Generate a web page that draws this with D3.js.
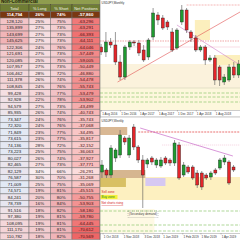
<!DOCTYPE html>
<html>
<head>
<meta charset="utf-8">
<script src="https://cdn.jsdelivr.net/npm/d3@7"></script>
<style>
  html, body { margin: 0; padding: 0; background: #fff; overflow: hidden; }
  svg { display: block; font-family: "Liberation Sans", Arial, sans-serif; }
</style>
</head>
<body>
<div id="chart"></div>
<script>
// Non-Commercial positions table
var headers = ["Total", "% Long", "% Short", "Net Positions"];
var totals = [114794, 128120, 135899, 143699, 145625, 122306, 121691, 120085, 107957, 106462, 111378, 108845, 99428, 92928, 94579, 85935, 73347, 72320, 71849, 73615, 74136, 73223, 80027, 82465, 82129, 76587, 71009, 74571, 84241, 78739, 91516, 97380, 108095, 111170, 110782];
var longPct = [26, 25, 27, 27, 27, 24, 27, 25, 27, 28, 26, 24, 23, 22, 27, 26, 24, 24, 23, 23, 28, 25, 26, 27, 34, 30, 25, 19, 20, 16, 18, 19, 19, 19, 18];
var shortPct = [74, 75, 73, 73, 73, 76, 73, 75, 73, 72, 74, 76, 77, 78, 73, 74, 76, 76, 77, 77, 72, 75, 74, 73, 66, 70, 75, 81, 80, 84, 82, 81, 81, 81, 82];
var netPos = [-57860, -63296, -63291, -66393, -64111, -64046, -57449, -59005, -50449, -46880, -54478, -55743, -53479, -53902, -43499, -40743, -35743, -37068, -34495, -35817, -32152, -36063, -37927, -37771, -26291, -31268, -35069, -45515, -50755, -53903, -58180, -59780, -64445, -70612, -70569];

// upper chart: monthly candles
var topMonths = ["2016-08", "2016-09", "2016-10", "2016-11", "2016-12", "2017-01", "2017-02", "2017-03", "2017-04", "2017-05", "2017-06", "2017-07", "2017-08", "2017-09", "2017-10", "2017-11", "2017-12", "2018-01", "2018-02", "2018-03", "2018-04", "2018-05", "2018-06", "2018-07", "2018-08", "2018-09", "2018-10", "2018-11", "2018-12", "2019-01"];
var topOpen  = [110.3, 109.8, 110.8, 110.5, 108.8, 107.3, 110.3, 110.8, 110.7, 110.0, 109.3, 111.3, 113.5, 113.2, 112.8, 111.8, 110.2, 112.8, 114.0, 111.8, 111.2, 110.0, 110.3, 109.0, 109.2, 108.3, 106.8, 107.0, 108.3, 107.5];
var topHigh  = [110.6, 111.8, 111.2, 111.8, 109.5, 110.5, 111.0, 111.0, 111.0, 110.5, 111.2, 114.2, 113.8, 113.5, 113.0, 112.2, 112.2, 114.5, 114.2, 112.0, 111.5, 110.5, 110.5, 109.5, 109.5, 108.5, 107.6, 108.6, 108.8, 109.0];
var topLow   = [109.5, 109.3, 110.2, 108.5, 107.0, 107.0, 110.0, 110.4, 109.4, 108.8, 109.0, 111.0, 112.5, 112.0, 112.0, 109.8, 110.0, 112.5, 111.7, 110.8, 109.8, 109.8, 108.5, 108.8, 106.5, 106.4, 106.5, 106.8, 107.2, 107.2];
var topClose = [109.8, 110.8, 110.5, 108.8, 107.3, 110.3, 110.8, 110.7, 109.7, 109.0, 111.0, 113.7, 113.0, 112.2, 112.3, 110.0, 112.0, 114.0, 112.0, 111.2, 110.0, 110.3, 109.0, 109.2, 107.0, 107.0, 107.3, 108.3, 107.5, 108.6];
var topTicks = ["2016-08-01", "2016-12-01", "2017-04-01", "2017-08-01", "2017-12-01", "2018-04-01", "2018-08-01"];

// lower chart: weekly candles
var lowWeeks = ["2018-09-30", "2018-10-07", "2018-10-14", "2018-10-21", "2018-10-28", "2018-11-04", "2018-11-11", "2018-11-18", "2018-11-25", "2018-12-02", "2018-12-09", "2018-12-16", "2018-12-23", "2018-12-30", "2019-01-06", "2019-01-13", "2019-01-20", "2019-01-27", "2019-02-03", "2019-02-10", "2019-02-17", "2019-02-24", "2019-03-03", "2019-03-10", "2019-03-17", "2019-03-24", "2019-03-31", "2019-04-07", "2019-04-14", "2019-04-21"];
var lowOpen  = [108.0, 108.2, 107.7, 109.4, 109.7, 111.4, 109.7, 112.5, 110.5, 109.2, 108.8, 109.4, 108.7, 108.6, 109.4, 109.2, 108.9, 110.7, 107.7, 108.5, 108.5, 107.9, 107.9, 107.7, 107.5, 108.2, 108.4, 109.0, 109.0, 108.5];
var lowHigh  = [109.2, 108.4, 110.7, 110.4, 112.2, 111.6, 111.7, 112.8, 110.7, 109.7, 109.4, 109.6, 109.4, 109.5, 109.6, 109.4, 111.2, 111.0, 109.0, 108.7, 108.7, 108.2, 108.1, 107.9, 108.1, 108.4, 109.4, 109.7, 109.2, 108.7];
var lowLow   = [107.4, 107.4, 107.4, 109.0, 109.4, 110.7, 109.4, 110.2, 108.9, 104.4, 108.4, 108.7, 108.4, 108.4, 108.7, 108.6, 108.6, 107.2, 107.5, 107.8, 107.2, 106.4, 106.2, 107.2, 107.2, 107.7, 108.2, 108.7, 106.7, 108.0];
var lowClose = [108.7, 107.7, 110.4, 110.2, 111.7, 111.0, 111.4, 110.5, 109.2, 107.7, 109.2, 109.0, 109.2, 109.2, 108.9, 108.9, 110.9, 107.4, 108.7, 108.0, 107.4, 106.7, 106.5, 107.4, 107.9, 107.9, 109.2, 109.4, 106.9, 108.2];
var lowTicks = ["2018-10-01", "2018-11-01", "2018-12-03", "2019-01-01", "2019-02-01", "2019-03-01", "2019-04-01"];

var svg = d3.select("#chart")
  .append("svg")
  .attr("width", 240)
  .attr("height", 240);

var fmt = d3.formatLocale({ decimal: ".", thousands: ",", grouping: [3], currency: ["", ""], minus: "-" }).format(",");
var parseMonth = d3.timeParse("%Y-%m");
var parseDay = d3.timeParse("%Y-%m-%d");

// ---------- table ----------
var colX = [0, 29, 50.5, 72, 100];
var rowY = d3.scaleBand().domain(d3.range(totals.length)).range([11.5, 239.5]);

var totalColor = d3.scaleLinear().domain([71009, 100000, 145625]).range(["#e2e9f5", "#f5dfe2", "#f1b3b6"]);
var longColor = d3.scaleLinear().domain([16, 34]).range(["#f2c6ca", "#f9eef0"]);
var shortColor = d3.scaleLinear().domain([66, 84]).range(["#f7e2e5", "#efaeb2"]);
var netColor = d3.scaleLinear().domain([-26291, -70612]).range(["#fbdcdc", "#ee6666"]);

var table = svg.append("g");

table.append("rect").attr("x", 0).attr("y", -3).attr("width", 100).attr("height", 7.5).attr("fill", "#8f9d4e");
table.append("text").attr("x", 1).attr("y", 3)
  .attr("font-size", 4.6).attr("font-weight", "bold").attr("fill", "#1e2408")
  .text("Non-Commercial");

headers.forEach(function(h, j) {
  table.append("rect").attr("x", colX[j]).attr("y", 4.5).attr("width", colX[j + 1] - colX[j]).attr("height", 7)
    .attr("fill", "#6f7d34").attr("stroke", "#4a4a2a").attr("stroke-width", 0.5);
  table.append("text").attr("x", (colX[j] + colX[j + 1]) / 2).attr("y", 9.6)
    .attr("text-anchor", "middle").attr("font-size", 4).attr("fill", "#f4f4e4")
    .text(h);
});

var rows = table.selectAll(".row")
  .data(d3.range(totals.length))
  .enter()
  .append("g")
  .attr("class", "row")
  .attr("transform", function(i) { return "translate(0," + rowY(i) + ")"; });

function cellText(i, j) {
  if (j === 0) return fmt(totals[i]);
  if (j === 1) return longPct[i] + "%";
  if (j === 2) return shortPct[i] + "%";
  return fmt(netPos[i]);
}
function cellFill(i, j) {
  if (i === 0) return "#7a3812";
  if (j === 0) return totalColor(totals[i]);
  if (j === 1) return longColor(longPct[i]);
  if (j === 2) return shortColor(shortPct[i]);
  return netColor(netPos[i]);
}

[0, 1, 2, 3].forEach(function(j) {
  rows.append("rect")
    .attr("x", colX[j])
    .attr("width", colX[j + 1] - colX[j])
    .attr("height", rowY.bandwidth())
    .attr("fill", function(i) { return cellFill(i, j); })
    .attr("stroke", "#6e6e6e")
    .attr("stroke-width", 0.5);
  rows.append("text")
    .attr("x", (colX[j] + colX[j + 1]) / 2)
    .attr("y", rowY.bandwidth() / 2 + 1.6)
    .attr("text-anchor", "middle")
    .attr("font-size", 4.4)
    .attr("font-weight", function(i) { return i === 0 ? "bold" : "normal"; })
    .attr("fill", function(i) { return i === 0 ? "#fff" : (j === 3 ? "#4a1010" : "#222"); })
    .text(function(i) { return cellText(i, j); });
});

// ---------- candles helper ----------
function drawCandles(g, dates, open, high, low, close, x, y, w) {
  var idx = d3.range(dates.length);
  g.selectAll(".wick")
    .data(idx)
    .enter()
    .append("line")
    .attr("x1", function(i) { return x(dates[i]); })
    .attr("x2", function(i) { return x(dates[i]); })
    .attr("y1", function(i) { return y(high[i]); })
    .attr("y2", function(i) { return y(low[i]); })
    .attr("stroke", "#555")
    .attr("stroke-width", 0.6);
  g.selectAll(".body")
    .data(idx)
    .enter()
    .append("rect")
    .attr("x", function(i) { return x(dates[i]) - w / 2; })
    .attr("y", function(i) { return y(Math.max(open[i], close[i])); })
    .attr("width", w)
    .attr("height", function(i) { return Math.max(0.8, Math.abs(y(open[i]) - y(close[i]))); })
    .attr("fill", function(i) { return close[i] >= open[i] ? "#1f9a30" : "#e3252a"; })
    .attr("stroke", "#222")
    .attr("stroke-width", 0.4);
}

function zone(g, x, y, d0, d1, p0, p1, color) {
  g.append("rect")
    .attr("x", x(d0)).attr("width", x(d1) - x(d0))
    .attr("y", y(p0)).attr("height", y(p1) - y(p0))
    .attr("fill", color);
}
function hline(g, x, y, d0, d1, p, color, dash, sw) {
  g.append("line")
    .attr("x1", x(d0)).attr("x2", x(d1))
    .attr("y1", y(p)).attr("y2", y(p))
    .attr("stroke", color).attr("stroke-width", sw || 0.6)
    .attr("stroke-dasharray", dash || null);
}
function tline(g, x, y, d0, p0, d1, p1, color) {
  g.append("line")
    .attr("x1", x(d0)).attr("y1", y(p0))
    .attr("x2", x(d1)).attr("y2", y(p1))
    .attr("stroke", color).attr("stroke-width", 0.6);
}

// ---------- upper chart ----------
var tDates = topMonths.map(parseMonth);
var tA = parseDay("2016-07-25"), tB = parseDay("2019-01-10");
var xTop = d3.scaleTime().domain([tA, tB]).range([100, 240]);
var yTop = d3.scaleLinear().domain([106, 115]).range([90, 0]);

svg.append("clipPath").attr("id", "clipTop").append("rect").attr("x", 100).attr("y", 0).attr("width", 140).attr("height", 88);
var topG = svg.append("g").attr("clip-path", "url(#clipTop)");

topG.append("rect").attr("x", 100).attr("y", 0).attr("width", 140).attr("height", 88).attr("fill", "#fff");
zone(topG, xTop, yTop, tA, tB, 108.6, 106.0, "#fbf2dc");
zone(topG, xTop, yTop, parseDay("2018-03-26"), parseDay("2018-07-01"), 113.0, 111.0, "#fcefbd");
zone(topG, xTop, yTop, parseDay("2018-08-02"), tB, 109.5, 108.5, "#fcefbd");
hline(topG, xTop, yTop, parseDay("2018-02-01"), tB, 114.5, "#ee8888", "2,1");
hline(topG, xTop, yTop, tA, tB, 110.9, "#e66a6a", "1.5,1");
hline(topG, xTop, yTop, parseDay("2017-02-01"), tB, 110.3, "#f2b8c8", null, 0.5);
tline(topG, xTop, yTop, parseDay("2016-11-15"), 106.8, tB, 113.8, "#e05050");
tline(topG, xTop, yTop, parseDay("2017-12-01"), 112.5, tB, 108.5, "#d080c8");

drawCandles(topG, tDates, topOpen, topHigh, topLow, topClose, xTop, yTop, 3);

topG.append("text").attr("x", 101.5).attr("y", 3.5).attr("font-size", 3).attr("fill", "#333").text("USDJPY,Monthly");

// indicator strip
svg.append("rect").attr("x", 100).attr("y", 88).attr("width", 140).attr("height", 22).attr("fill", "#fdf7dc");
svg.append("line").attr("x1", 100).attr("x2", 240).attr("y1", 88).attr("y2", 88).attr("stroke", "#c8c8b0").attr("stroke-width", 0.5);
[93, 97, 102].forEach(function(yy) {
  svg.append("line").attr("x1", 100).attr("x2", 240).attr("y1", yy).attr("y2", yy)
    .attr("stroke", "#8cc66e").attr("stroke-width", 0.7).attr("stroke-dasharray", "3,1.5");
});

var axTop = svg.append("g")
  .attr("transform", "translate(0,110)")
  .call(d3.axisBottom(xTop).tickValues(topTicks.map(parseDay)).tickSize(1.5).tickFormat(d3.timeFormat("%-d %b %Y")));
axTop.select(".domain").attr("stroke", "#999").attr("stroke-width", 0.5);
axTop.selectAll(".tick line").attr("stroke", "#777").attr("stroke-width", 0.4);
axTop.selectAll("text").attr("font-size", 3).attr("fill", "#333").attr("text-anchor", "start").attr("dx", 0.6).attr("y", 2).attr("dy", "0.9em");

svg.append("line").attr("x1", 100).attr("x2", 240).attr("y1", 117).attr("y2", 117).attr("stroke", "#888").attr("stroke-width", 0.6);

// ---------- lower chart ----------
var lDates = lowWeeks.map(parseDay);
var lA = parseDay("2018-09-27"), lB = parseDay("2019-05-01");
var xLow = d3.scaleTime().domain([lA, lB]).range([100, 240]);
var yLow = d3.scaleLinear().domain([104, 113]).range([212, 122]);

svg.append("clipPath").attr("id", "clipLow").append("rect").attr("x", 100).attr("y", 117.5).attr("width", 140).attr("height", 115.5);
var lowG = svg.append("g").attr("clip-path", "url(#clipLow)");

lowG.append("rect").attr("x", 100).attr("y", 117.5).attr("width", 140).attr("height", 115.5).attr("fill", "#fff");
zone(lowG, xLow, yLow, lA, parseDay("2018-12-20"), 104.3, 101.0, "#fef9e4");
zone(lowG, xLow, yLow, lA, lB, 107.5, 105.2, "#fdf0c0");
zone(lowG, xLow, yLow, lA, parseDay("2018-11-08"), 112.5, 111.7, "#d9b894");
zone(lowG, xLow, yLow, lA, parseDay("2018-12-06"), 108.2, 107.4, "#d6b690");
zone(lowG, xLow, yLow, lA, parseDay("2018-11-06"), 107.4, 106.5, "#d8c064");
zone(lowG, xLow, yLow, parseDay("2018-12-06"), parseDay("2019-01-06"), 107.4, 106.6, "#d6c8f2");
hline(lowG, xLow, yLow, parseDay("2018-11-25"), lB, 112.0, "#e03434", "2,1", 0.7);
hline(lowG, xLow, yLow, parseDay("2019-01-01"), lB, 110.7, "#eaa0c0", "1,1", 0.5);
tline(lowG, xLow, yLow, parseDay("2018-11-28"), 112.4, parseDay("2019-04-20"), 109.6, "#c050c0");
[104.1, 102.7, 102.1, 101.4].forEach(function(p) {
  hline(lowG, xLow, yLow, lA, lB, p, "#8cc66e", "3,1.5", 0.7);
});

drawCandles(lowG, lDates, lowOpen, lowHigh, lowLow, lowClose, xLow, yLow, 3);

lowG.append("text").attr("x", 101.5).attr("y", 121.5).attr("font-size", 3).attr("fill", "#333").text("USDJPY,Weekly");
lowG.append("text").attr("x", 101.5).attr("y", 193).attr("font-size", 3.2).attr("fill", "#d42020").text("Sell zone");
lowG.append("rect").attr("x", 100.5).attr("y", 195).attr("width", 17).attr("height", 4).attr("fill", "#f5f03a");
lowG.append("text").attr("x", 101.5).attr("y", 198.2).attr("font-size", 3.2).attr("fill", "#1b8a1b").text("Buy zone");
lowG.append("text").attr("x", 101.5).attr("y", 204).attr("font-size", 3).attr("fill", "#d42020")
  .attr("text-decoration", "underline").text("Net shorts rising");
lowG.append("rect").attr("x", 128).attr("y", 211).attr("width", 30).attr("height", 6.5)
  .attr("fill", "none").attr("stroke", "#777").attr("stroke-width", 0.4).attr("stroke-dasharray", "1,1");
lowG.append("text").attr("x", 143).attr("y", 215.3).attr("text-anchor", "middle").attr("font-size", 3).attr("fill", "#444").text("(Secondary demand)");

var axLow = svg.append("g")
  .attr("transform", "translate(0,233)")
  .call(d3.axisBottom(xLow).tickValues(lowTicks.map(parseDay)).tickSize(1.5).tickFormat(d3.timeFormat("%-d %b %Y")));
axLow.select(".domain").attr("stroke", "#999").attr("stroke-width", 0.5);
axLow.selectAll(".tick line").attr("stroke", "#777").attr("stroke-width", 0.4);
axLow.selectAll("text").attr("font-size", 3).attr("fill", "#333").attr("text-anchor", "start").attr("dx", 0.6).attr("y", 2).attr("dy", "0.9em");

// border between table and charts
svg.append("line").attr("x1", 100).attr("x2", 100).attr("y1", 0).attr("y2", 240).attr("stroke", "#777").attr("stroke-width", 0.6);
</script>
</body>
</html>
